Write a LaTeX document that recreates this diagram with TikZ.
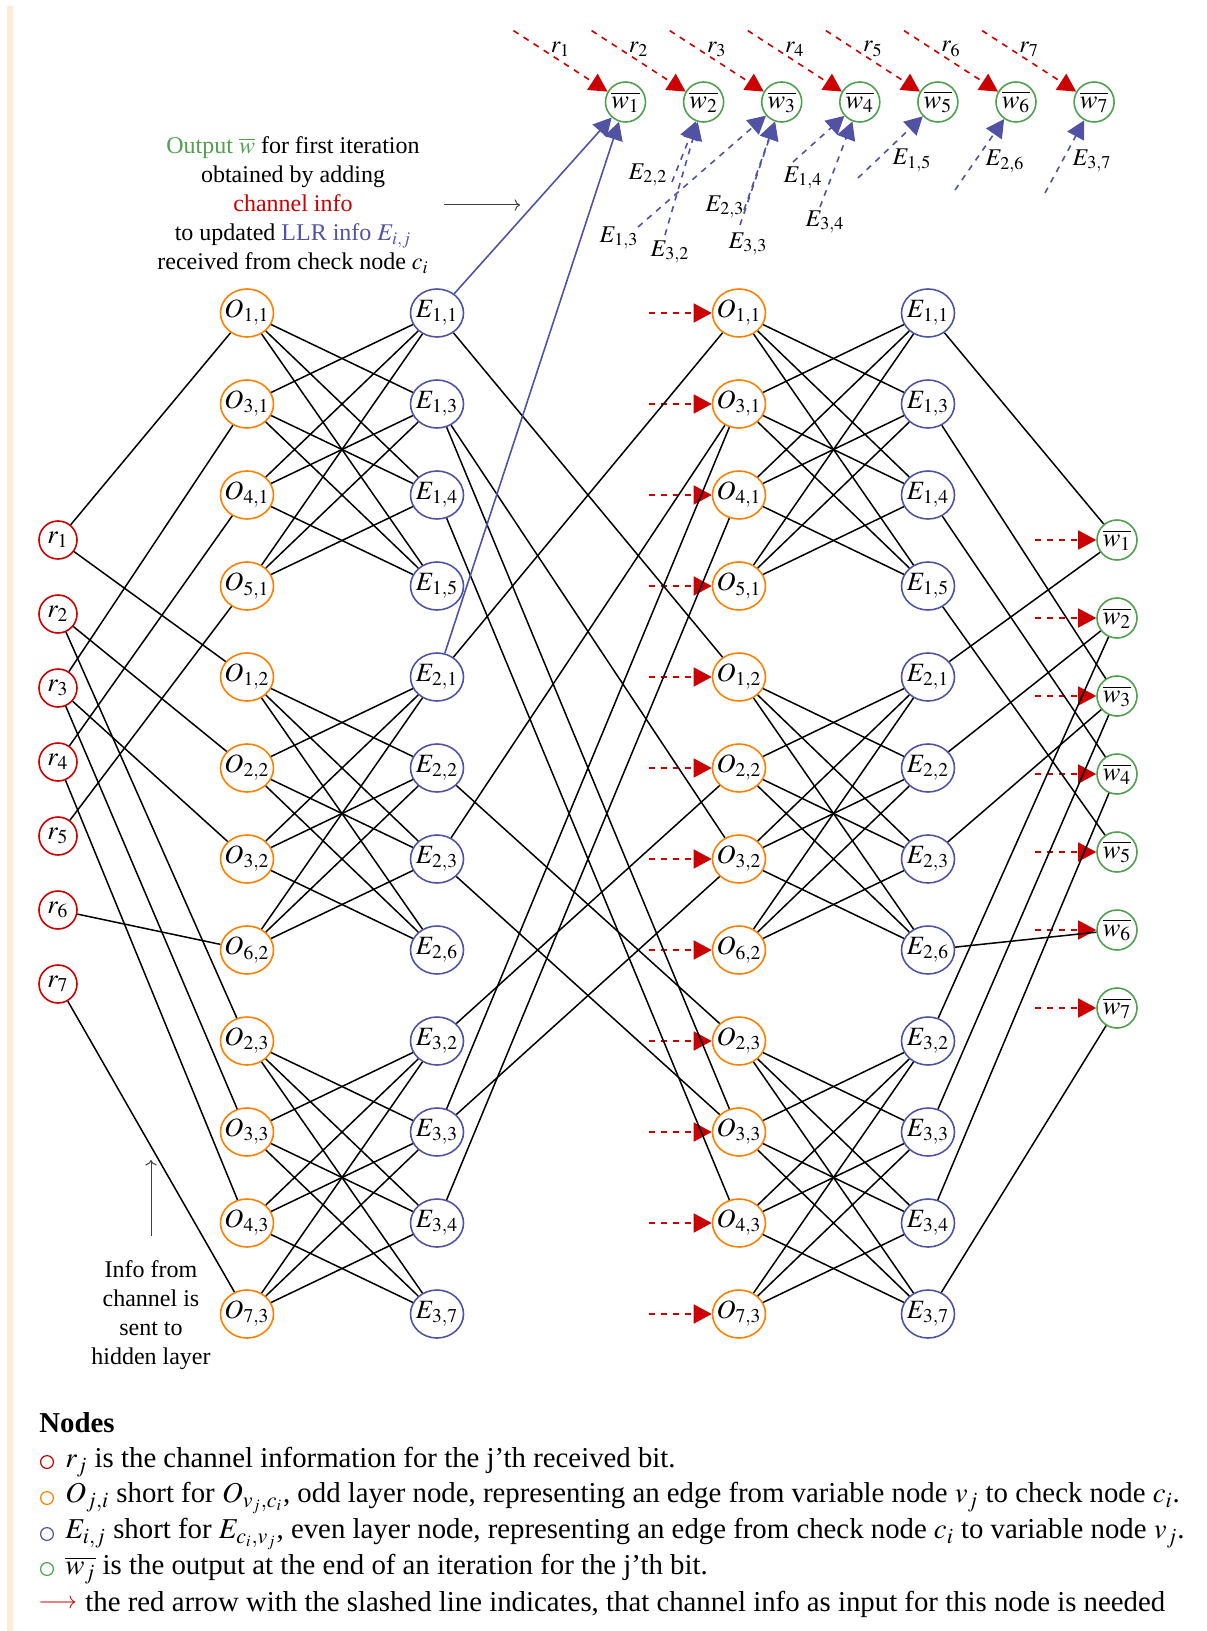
\documentclass[12pt,tikz,border=0pt]{standalone}
\usepackage{mathptmx}
\usepackage[no-math]{fontspec}
\setmainfont{Liberation Serif}
\usepackage{amsmath}
\usetikzlibrary{arrows.meta,shapes.geometric,positioning,calc}
\definecolor{ldpcRed}   {RGB}{204,   0,   0}
\definecolor{ldpcOrange}{RGB}{255, 128,   0}
\definecolor{ldpcBlue}  {RGB}{ 82,  82, 165}
\definecolor{ldpcGreen} {RGB}{ 80, 160,  80}
\definecolor{ldpcBar}   {RGB}{255, 234, 212}
\newcommand{\nodefont}{\fontsize{13.2pt}{15pt}\selectfont}
\tikzset{
  rnode/.style={circle,draw=ldpcRed,line width=0.8pt,minimum size=19pt,inner sep=0pt,font=\nodefont},
  onode/.style={ellipse,draw=ldpcOrange,line width=0.8pt,minimum width=26.5pt,
                minimum height=24pt,inner xsep=-4pt,inner ysep=0pt,font=\nodefont},
  enode/.style={onode,draw=ldpcBlue},
  wnode/.style={circle,draw=ldpcGreen,line width=0.8pt,minimum size=20pt,inner sep=-1pt,font=\nodefont},
  link/.style={line width=0.75pt},
  chan/.style={ldpcRed,dashed,line width=0.8pt,-{Triangle[length=9pt,width=9.5pt]}},
  llr/.style={ldpcBlue,line width=0.8pt,-{Triangle[length=9pt,width=9.5pt]}},
  llrdash/.style={llr,dashed},
  pointer/.style={black!75,line width=0.5pt,->},
  legtext/.style={anchor=west,inner sep=0pt,font=\large},
  legdot/.style={circle,line width=0.6pt,minimum size=6.4pt,inner sep=0pt}
}
\begin{document}
\begin{tikzpicture}[x=0.5pt,y=-0.5pt]
  \useasboundingbox (0,0) rectangle (1206,1631);
  \fill[ldpcBar] (7,6) rectangle (13,1631);

  % Channel input
  \foreach \j in {1,...,7}{
    \node[rnode] (r\j) at (58,{540+74*(\j-1)}) {$r_{\j}$};
  }

  % Odd / even layers
  \foreach \k/\a/\b in {1/1/1,2/3/1,3/4/1,4/5/1,5/1/2,6/2/2,7/3/2,8/6/2,
                        9/2/3,10/3/3,11/4/3,12/7/3}{
    \node[onode] (Oa\a\b) at (247,{313+91*(\k-1)}) {$O_{\a,\b}$};
    \node[onode] (Ob\a\b) at (739,{313+91*(\k-1)}) {$O_{\a,\b}$};
    \draw[chan] ([xshift=-31.5pt]Ob\a\b.west) -- (Ob\a\b.west);
  }
  \foreach \k/\a/\b in {1/1/1,2/1/3,3/1/4,4/1/5,5/2/1,6/2/2,7/2/3,8/2/6,
                        9/3/2,10/3/3,11/3/4,12/3/7}{
    \node[enode] (Ea\a\b) at (437,{313+91*(\k-1)}) {$E_{\a,\b}$};
    \node[enode] (Eb\a\b) at (928,{313+91*(\k-1)}) {$E_{\a,\b}$};
  }

  % Outputs
  \foreach \j in {1,...,7}{
    \node[wnode] (w\j) at (1117,{540+78*(\j-1)}) {$\overline{w_{\j}}$};
    \node[wnode] (tw\j) at ({625.5+78.1*(\j-1)},102) {$\overline{w_{\j}}$};
    \draw[chan] ([xshift=-30.5pt]w\j.west) -- (w\j.west);
    \draw[chan] ([shift={(-94,-61)}]tw\j.150) -- node[above,inner sep=2pt,text=black]{$r_{\j}$} (tw\j.150);
  }

  % Connections
  \foreach \j/\i in {1/1,1/2,2/2,2/3,3/1,3/2,3/3,4/1,4/3,5/1,6/2,7/3}
    \draw[link] (r\j) -- (Oa\j\i);
  \foreach \i/\vars in {1/{1,3,4,5},2/{1,2,3,6},3/{2,3,4,7}}
    \foreach \j in \vars
      \foreach \jj in \vars{
        \ifnum\j=\jj\else
          \draw[link] (Oa\j\i) -- (Ea\i\jj);
          \draw[link] (Ob\j\i) -- (Eb\i\jj);
        \fi
      }
  \foreach \i/\j/\ii in {1/1/2,1/3/2,1/3/3,1/4/3,2/1/1,2/2/3,2/3/1,2/3/3,
                         3/2/2,3/3/1,3/3/2,3/4/1}
    \draw[link] (Ea\i\j) -- (Ob\j\ii);
  \foreach \i/\j in {1/1,1/3,1/4,1/5,2/1,2/2,2/3,2/6,3/2,3/3,3/4,3/7}
    \draw[link] (Eb\i\j) -- (w\j);

  % First iteration output
  \draw[llr] (Ea11) -- (tw1);
  \draw[llr] (Ea21) -- (tw1);
  \foreach \i/\j/\tx/\ty/\lx/\ly in {2/2/672/182/648/175,3/2/665/235/670/252,
      1/3/638/227/619/238,2/3/744/210/725/207,3/3/740/225/748/244,
      1/4/793/162/803/178,3/4/820/207/825/222,1/5/858/178/912/160,
      2/6/955/190/1005/161,3/7/1045/193/1092/161}{
    \coordinate (s\i\j) at (\tx,\ty);
    \draw[llrdash] (s\i\j) -- (tw\j);
    \node (l\i\j) at (\lx,\ly) {$E_{\i,\j}$};
  }

  % Annotations
  \node[align=center] (note) at (293,205)
    {\textcolor{ldpcGreen}{Output $\overline{w}$} for first iteration\\
     obtained by adding\\
     \textcolor{ldpcRed}{channel info}\\
     to updated \textcolor{ldpcBlue}{LLR info $E_{i,j}$}\\
     received from check node $c_i$};
  \coordinate (notetip) at (520,205);
  \draw[pointer] (444,205) -- (notetip);
  \node[align=center] (info) at (151,1315) {Info from\\channel is\\sent to\\hidden layer};
  \coordinate (infotip) at (151,1160);
  \draw[pointer] ([yshift=8pt]info.north) -- (infotip);

  % Legend
  \node[legtext,font=\large\bfseries] (legtitle) at (39,1423) {Nodes};
  \node[legdot,draw=ldpcRed] (kr) at (47,1462) {};
  \node[legtext] (lr) at (65,1462) {$r_j$ is the channel information for the j'th received bit.};
  \node[legdot,draw=ldpcOrange] (ko) at (47,1498) {};
  \node[legtext] (lo) at (65,1498) {$O_{j,i}$ short for $O_{v_j,c_i}$, odd layer node, representing an edge from variable node $v_j$ to check node $c_i$.};
  \node[legdot,draw=ldpcBlue] (ke) at (47,1534) {};
  \node[legtext] (le) at (65,1534) {$E_{i,j}$ short for $E_{c_i,v_j}$, even layer node, representing an edge from check node $c_i$ to variable node $v_j$.};
  \node[legdot,draw=ldpcGreen] (kw) at (47,1569) {};
  \node[legtext] (lw) at (65,1569) {$\overline{w_j}$ is the output at the end of an iteration for the j'th bit.};
  \node[legtext,font=\normalsize,text=ldpcRed] (ka) at (38,1604) {$\longrightarrow$};
  \node[legtext] (la) at (85,1604) {the red arrow with the slashed line indicates, that channel info as input for this node is needed};
\end{tikzpicture}
\end{document}
